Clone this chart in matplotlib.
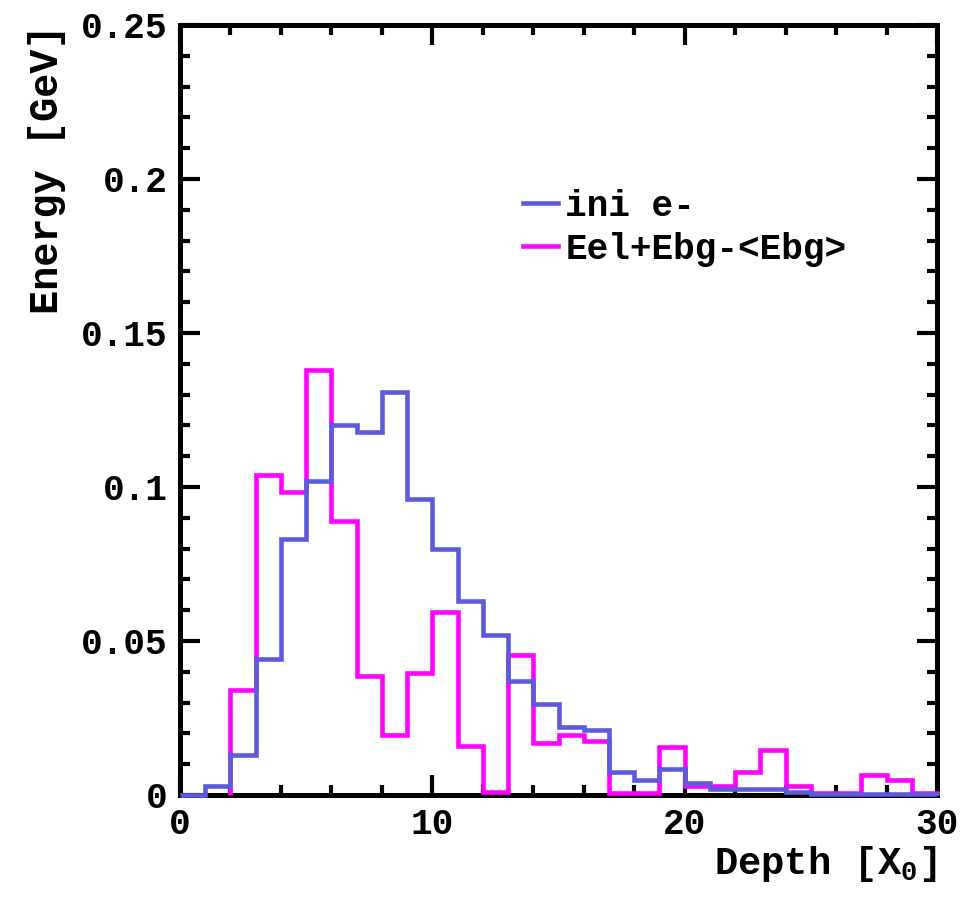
import numpy as np
import matplotlib
matplotlib.use("Agg")
import matplotlib.pyplot as plt
from matplotlib.lines import Line2D
from matplotlib.ticker import MultipleLocator

# Longitudinal shower profile, energy per 1 X0 slice
depth_edges = np.arange(0, 31, 1)
ini_e = [0.0, 0.003, 0.013, 0.044, 0.083, 0.102, 0.120, 0.118, 0.131, 0.096,
         0.080, 0.063, 0.052, 0.037, 0.0295, 0.022, 0.021, 0.0075, 0.005, 0.0085,
         0.004, 0.002, 0.002, 0.002, 0.001, 0.0004, 0.0004, 0.0004, 0.0004, 0.0004]
eel_ebg = [0.0, 0.0, 0.034, 0.104, 0.0985, 0.138, 0.089, 0.0385, 0.0195, 0.0395,
           0.0595, 0.016, 0.001, 0.0455, 0.017, 0.0195, 0.0175, 0.0005, 0.0005, 0.0155,
           0.003, 0.003, 0.0075, 0.0145, 0.003, 0.0006, 0.0006, 0.0065, 0.005, 0.0006]
labels = ["ini e-", "Eel+Ebg-<Ebg>"]
colors = ["#5b5bdb", "#ff00ff"]

plt.rcParams["font.family"] = ["Liberation Mono", "DejaVu Sans Mono"]
plt.rcParams["font.weight"] = "bold"
plt.rcParams["axes.labelweight"] = "bold"
plt.rcParams["mathtext.fontset"] = "custom"
plt.rcParams["mathtext.rm"] = "Liberation Mono:bold"
plt.rcParams["mathtext.it"] = "Liberation Mono:bold"
plt.rcParams["mathtext.bf"] = "Liberation Mono:bold"

fig = plt.figure(figsize=(9.76, 8.99), dpi=100)
ax = fig.add_axes([180 / 976, 1 - 795 / 899, 757 / 976, 770 / 899])

# magenta histogram starts at the first filled bin
first = 2
ax.stairs(eel_ebg[first:], depth_edges[first:], color=colors[1], lw=3.3,
          baseline=0, zorder=3, clip_on=False)
ax.stairs(ini_e, depth_edges, color=colors[0], lw=3.3, baseline=0,
          zorder=4, clip_on=False)

ax.set_xlim(0, 30)
ax.set_ylim(0, 0.25)
ax.xaxis.set_major_locator(MultipleLocator(10))
ax.xaxis.set_minor_locator(MultipleLocator(2))
ax.yaxis.set_major_locator(MultipleLocator(0.05))
ax.yaxis.set_minor_locator(MultipleLocator(0.01))
ax.set_yticks([0, 0.05, 0.1, 0.15, 0.2, 0.25])
ax.set_yticklabels(["0", "0.05", "0.1", "0.15", "0.2", "0.25"])

ax.tick_params(which="both", direction="in", top=True, right=True,
               width=3, labelsize=26, color="black")
ax.tick_params(which="major", length=14.5)
ax.tick_params(which="minor", length=7.5)
ax.tick_params(axis="y", which="major", pad=9)
ax.tick_params(axis="x", which="major", pad=9)
for sp in ax.spines.values():
    sp.set_linewidth(3.6)

ax.set_xlabel(r"Depth [$\mathrm{X}_0$]", fontsize=28, loc="right", labelpad=1)
ax.set_ylabel("Energy [GeV]", fontsize=29, loc="top", labelpad=11)

handles = [Line2D([], [], color=c, lw=3.3) for c in colors]
ax.legend(handles, labels, loc="upper left",
          bbox_to_anchor=(523 / 976, 1 - 189 / 899), bbox_transform=fig.transFigure,
          frameon=False, borderpad=0, borderaxespad=0, fontsize=26,
          handlelength=0.97, handletextpad=0.2, labelspacing=0.22)

fig.savefig("out.png", dpi=100)
